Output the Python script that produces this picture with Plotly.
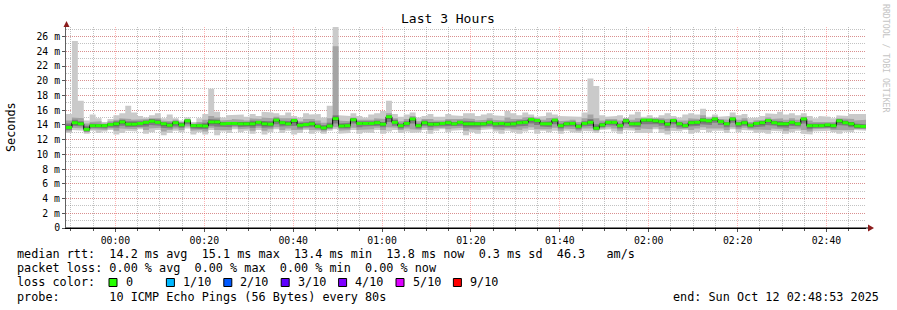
import pandas as pd
import plotly.graph_objects as go

# ---------------- data (ms) ----------------
start_time = "2025-10-11 23:48:53"
step_seconds = 80

median = [13.65, 14.3, 14.15, 13.4, 13.9, 13.9, 13.9, 14.05, 14.15, 14.4, 14.1, 14.1, 14.2, 14.35, 14.5,
          14.35, 14.15, 13.95, 14.3, 14.0, 14.55, 13.9, 13.9, 13.85, 14.4, 14.4, 14.15, 14.2, 14.2, 14.15,
          14.15, 14.15, 14.35, 14.15, 14.1, 14.65, 14.3, 14.15, 14.6, 13.95, 14.05, 14.15, 13.8, 13.6, 13.85,
          14.85, 13.85, 13.9, 14.7, 14.2, 14.2, 14.2, 14.3, 14.1, 15.1, 14.35, 13.9, 14.2, 14.8, 13.9,
          14.3, 14.1, 14.1, 14.2, 14.3, 14.15, 14.35, 14.15, 14.15, 14.15, 14.15, 14.35, 14.15, 14.2, 14.1,
          14.15, 14.3, 14.35, 14.75, 14.6, 14.15, 14.15, 14.65, 13.9, 14.15, 14.2, 13.8, 14.2, 14.35, 13.55,
          14.0, 14.35, 14.35, 13.9, 14.55, 14.15, 14.15, 14.65, 14.65, 14.55, 14.45, 14.1, 14.6, 14.15, 13.9,
          14.3, 14.35, 14.65, 14.55, 14.8, 14.45, 14.15, 14.8, 14.15, 14.3, 13.95, 14.2, 14.3, 14.6, 14.3,
          14.15, 14.15, 14.35, 14.15, 14.8, 13.9, 13.9, 13.9, 14.0, 13.9, 14.55, 14.3, 14.15, 13.85, 13.8]

ping_max = [15.5, 25.4, 17.3, 14.6, 15.4, 14.9, 14.4, 14.8, 15.3, 15.6, 16.6, 15.7, 15.2, 15.0, 15.3,
            15.6, 14.9, 15.4, 14.9, 14.6, 15.0, 14.4, 14.9, 15.5, 18.9, 15.8, 15.0, 15.3, 15.3, 15.4,
            15.1, 15.5, 15.2, 15.8, 15.7, 15.6, 15.3, 15.7, 15.2, 15.0, 15.6, 15.4, 15.5, 15.0, 16.6,
            27.4, 15.3, 15.2, 15.6, 15.2, 15.0, 15.4, 15.6, 15.9, 17.3, 15.5, 15.1, 15.4, 15.7, 15.0,
            15.2, 15.5, 15.1, 15.1, 15.5, 15.3, 15.2, 15.6, 15.6, 15.2, 15.4, 15.6, 15.3, 15.2, 15.9,
            15.6, 15.3, 15.7, 15.4, 15.1, 15.2, 15.7, 15.4, 15.2, 15.1, 15.2, 15.1, 15.7, 20.3, 19.3,
            15.3, 15.1, 15.2, 15.3, 14.9, 15.4, 15.8, 15.1, 15.3, 15.0, 15.3, 15.6, 15.2, 15.0, 15.4,
            15.6, 15.4, 16.2, 15.1, 15.4, 15.1, 15.2, 15.7, 15.3, 15.5, 14.9, 15.0, 15.2, 15.6, 15.5,
            15.8, 15.4, 15.6, 15.3, 15.6, 15.2, 14.9, 15.2, 15.1, 14.9, 15.3, 15.2, 15.5, 15.4, 15.5]

ping_min = [12.9, 13.3, 13.2, 12.8, 13.2, 12.9, 13.1, 13.3, 12.7, 12.9, 13.2, 13.1, 13.4, 12.8, 13.0,
            13.3, 12.6, 12.9, 13.2, 13.0, 13.5, 12.7, 13.0, 12.7, 13.3, 12.6, 13.1, 12.9, 13.4, 13.0,
            13.2, 12.8, 13.3, 12.7, 13.0, 13.4, 12.9, 13.2, 12.7, 12.9, 13.3, 12.8, 13.1, 12.8, 13.2,
            13.4, 12.8, 12.9, 13.3, 12.8, 13.0, 12.9, 13.3, 12.8, 13.1, 13.3, 12.9, 13.1, 12.9, 13.0,
            13.3, 12.8, 13.2, 13.4, 13.0, 13.2, 13.3, 12.6, 13.0, 12.8, 13.3, 13.4, 13.1, 12.8, 13.2,
            13.0, 12.8, 13.1, 13.3, 12.8, 13.2, 13.0, 13.2, 12.8, 13.2, 13.0, 12.9, 13.2, 13.1, 12.9,
            13.3, 13.4, 13.1, 12.8, 13.3, 13.2, 12.9, 13.0, 12.9, 13.4, 12.9, 12.7, 13.2, 13.1, 13.3,
            12.8, 13.0, 13.3, 13.0, 13.2, 13.2, 12.9, 13.4, 13.0, 13.3, 13.2, 12.9, 13.0, 12.8, 13.2,
            13.1, 12.8, 13.0, 13.2, 12.8, 12.7, 13.1, 13.2, 13.2, 13.0, 12.8, 13.1, 13.0, 13.3, 13.2]

ping_lo2 = [13.1, 13.6, 13.5, 13.0, 13.4, 13.3, 13.3, 13.5, 13.2, 13.5, 13.5, 13.4, 13.6, 13.3, 13.5,
            13.6, 13.1, 13.3, 13.5, 13.3, 13.8, 13.2, 13.3, 13.1, 13.6, 13.3, 13.4, 13.3, 13.7, 13.4,
            13.5, 13.2, 13.6, 13.2, 13.4, 13.7, 13.3, 13.5, 13.3, 13.3, 13.5, 13.3, 13.3, 13.1, 13.4,
            13.7, 13.2, 13.3, 13.6, 13.3, 13.4, 13.4, 13.6, 13.3, 13.7, 13.6, 13.3, 13.5, 13.4, 13.3,
            13.6, 13.3, 13.5, 13.6, 13.4, 13.5, 13.6, 13.2, 13.4, 13.3, 13.6, 13.7, 13.4, 13.3, 13.5,
            13.4, 13.3, 13.5, 13.7, 13.4, 13.5, 13.4, 13.6, 13.2, 13.5, 13.4, 13.2, 13.5, 13.5, 13.2,
            13.5, 13.7, 13.5, 13.2, 13.6, 13.5, 13.3, 13.5, 13.4, 13.7, 13.4, 13.2, 13.6, 13.4, 13.5,
            13.3, 13.5, 13.7, 13.5, 13.6, 13.5, 13.3, 13.7, 13.4, 13.6, 13.4, 13.3, 13.4, 13.3, 13.5,
            13.4, 13.2, 13.4, 13.5, 13.3, 13.1, 13.4, 13.4, 13.5, 13.3, 13.3, 13.4, 13.3, 13.5, 13.4]

ping_hi2 = [14.6, 15.0, 14.9, 14.2, 14.4, 14.5, 14.2, 14.5, 14.7, 14.9, 14.8, 14.7, 14.7, 14.8, 14.9,
            14.9, 14.6, 14.5, 14.7, 14.4, 14.8, 14.2, 14.4, 14.7, 15.2, 15.0, 14.6, 14.7, 14.8, 14.7,
            14.6, 14.9, 14.8, 15.0, 14.9, 15.1, 14.9, 14.9, 14.9, 14.5, 14.8, 14.8, 14.6, 14.3, 14.9,
            24.7, 14.6, 14.5, 15.0, 14.7, 14.6, 14.7, 14.9, 14.8, 15.6, 14.9, 14.5, 14.8, 15.2, 14.5,
            14.8, 14.8, 14.6, 14.6, 14.8, 14.7, 14.8, 14.9, 14.8, 14.6, 14.7, 14.9, 14.7, 14.6, 15.0,
            14.8, 14.8, 15.0, 15.1, 14.9, 14.7, 14.9, 15.0, 14.5, 14.6, 14.7, 14.4, 14.9, 15.4, 14.9,
            14.6, 14.8, 14.8, 14.6, 14.9, 14.7, 14.9, 14.9, 15.0, 14.9, 14.9, 14.8, 14.9, 14.6, 14.6,
            14.9, 14.8, 15.3, 14.9, 15.1, 14.8, 14.7, 15.1, 14.7, 14.9, 14.4, 14.6, 14.7, 15.0, 14.8,
            14.9, 14.7, 14.9, 14.7, 15.1, 14.6, 14.4, 14.5, 14.5, 14.4, 14.9, 14.8, 14.8, 14.6, 14.7]

ping_lo3 = [13.3, 13.9, 13.8, 13.1, 13.6, 13.5, 13.5, 13.7, 13.6, 13.9, 13.7, 13.7, 13.8, 13.8, 14.0,
            13.9, 13.6, 13.5, 13.8, 13.6, 14.1, 13.5, 13.5, 13.4, 13.9, 13.8, 13.7, 13.7, 13.9, 13.7,
            13.8, 13.6, 13.9, 13.6, 13.7, 14.1, 13.8, 13.8, 13.9, 13.5, 13.7, 13.7, 13.5, 13.3, 13.5,
            14.2, 13.5, 13.5, 14.2, 13.7, 13.8, 13.8, 13.9, 13.7, 14.4, 13.9, 13.5, 13.8, 14.2, 13.5,
            13.9, 13.7, 13.8, 13.8, 13.8, 13.8, 13.9, 13.6, 13.7, 13.7, 13.8, 13.9, 13.7, 13.7, 13.7,
            13.7, 13.8, 13.9, 14.2, 14.0, 13.8, 13.7, 14.1, 13.5, 13.8, 13.8, 13.4, 13.8, 13.9, 13.3,
            13.7, 14.0, 13.9, 13.5, 14.1, 13.8, 13.7, 14.1, 14.0, 14.1, 13.9, 13.6, 14.1, 13.7, 13.6,
            13.8, 13.9, 14.1, 14.0, 14.3, 14.0, 13.7, 14.3, 13.7, 13.9, 13.6, 13.7, 13.8, 14.0, 13.9,
            13.7, 13.6, 13.9, 13.8, 14.2, 13.4, 13.6, 13.6, 13.7, 13.5, 14.0, 13.9, 13.7, 13.5, 13.5]

ping_hi3 = [14.2, 14.7, 14.5, 13.9, 14.2, 14.2, 14.1, 14.3, 14.5, 14.7, 14.5, 14.4, 14.5, 14.6, 14.8,
            14.7, 14.4, 14.3, 14.5, 14.3, 14.7, 14.1, 14.2, 14.3, 14.8, 14.7, 14.4, 14.5, 14.5, 14.4,
            14.4, 14.6, 14.6, 14.6, 14.5, 14.9, 14.6, 14.5, 14.8, 14.3, 14.4, 14.5, 14.2, 14.0, 14.3,
            15.3, 14.2, 14.3, 14.9, 14.5, 14.4, 14.5, 14.6, 14.4, 15.3, 14.7, 14.2, 14.5, 15.0, 14.2,
            14.6, 14.4, 14.4, 14.4, 14.6, 14.4, 14.6, 14.5, 14.5, 14.4, 14.4, 14.6, 14.4, 14.4, 14.5,
            14.5, 14.6, 14.7, 14.9, 14.8, 14.4, 14.5, 14.8, 14.2, 14.4, 14.5, 14.1, 14.5, 14.8, 14.1,
            14.3, 14.6, 14.6, 14.2, 14.8, 14.4, 14.5, 14.8, 14.8, 14.8, 14.7, 14.4, 14.8, 14.4, 14.2,
            14.6, 14.6, 14.9, 14.7, 15.0, 14.7, 14.4, 15.0, 14.4, 14.6, 14.2, 14.4, 14.5, 14.8, 14.6,
            14.5, 14.4, 14.6, 14.4, 15.0, 14.2, 14.2, 14.2, 14.3, 14.2, 14.8, 14.6, 14.4, 14.2, 14.1]

ping_lo4 = [13.45, 14.1, 14.0, 13.25, 13.75, 13.7, 13.7, 13.85, 13.9, 14.2, 13.9, 13.9, 14.0, 14.1, 14.3,
            14.15, 13.9, 13.75, 14.1, 13.8, 14.35, 13.7, 13.7, 13.6, 14.2, 14.1, 13.95, 14.0, 14.05, 13.95,
            14.0, 13.9, 14.15, 13.9, 13.9, 14.4, 14.1, 14.0, 14.3, 13.75, 13.85, 13.95, 13.6, 13.4, 13.65,
            14.55, 13.65, 13.7, 14.5, 14.0, 14.0, 14.0, 14.1, 13.9, 14.8, 14.15, 13.7, 14.0, 14.55, 13.7,
            14.1, 13.9, 13.95, 14.0, 14.1, 13.95, 14.15, 13.9, 13.95, 13.95, 13.95, 14.15, 13.95, 14.0, 13.9,
            13.95, 14.1, 14.15, 14.5, 14.35, 13.95, 13.95, 14.4, 13.7, 13.95, 14.0, 13.6, 14.0, 14.15, 13.4,
            13.8, 14.15, 14.15, 13.7, 14.3, 13.95, 13.95, 14.4, 14.4, 14.3, 14.2, 13.9, 14.35, 13.95, 13.7,
            14.05, 14.1, 14.4, 14.3, 14.55, 14.25, 13.95, 14.55, 13.95, 14.1, 13.75, 14.0, 14.05, 14.35, 14.1,
            13.9, 13.9, 14.1, 13.95, 14.5, 13.65, 13.7, 13.7, 13.8, 13.7, 14.3, 14.1, 13.9, 13.65, 13.6]

ping_hi4 = [13.9, 14.5, 14.35, 13.65, 14.05, 14.1, 14.05, 14.2, 14.35, 14.6, 14.3, 14.3, 14.35, 14.5, 14.7,
            14.55, 14.3, 14.15, 14.45, 14.2, 14.7, 14.05, 14.1, 14.1, 14.6, 14.6, 14.3, 14.35, 14.4, 14.3,
            14.3, 14.4, 14.5, 14.4, 14.3, 14.8, 14.45, 14.35, 14.75, 14.15, 14.25, 14.35, 14.0, 13.8, 14.05,
            15.1, 14.05, 14.1, 14.85, 14.4, 14.35, 14.4, 14.5, 14.3, 15.25, 14.55, 14.1, 14.4, 14.95, 14.1,
            14.5, 14.3, 14.3, 14.35, 14.5, 14.3, 14.5, 14.35, 14.35, 14.3, 14.3, 14.5, 14.3, 14.35, 14.3,
            14.35, 14.5, 14.55, 14.9, 14.75, 14.3, 14.35, 14.8, 14.1, 14.3, 14.4, 14.0, 14.4, 14.6, 13.8,
            14.2, 14.5, 14.5, 14.1, 14.75, 14.3, 14.35, 14.8, 14.8, 14.7, 14.6, 14.3, 14.75, 14.3, 14.1,
            14.5, 14.5, 14.85, 14.7, 14.95, 14.6, 14.3, 14.95, 14.3, 14.5, 14.1, 14.35, 14.5, 14.75, 14.5,
            14.35, 14.35, 14.5, 14.3, 14.95, 14.1, 14.1, 14.1, 14.2, 14.1, 14.7, 14.5, 14.35, 14.05, 14.0]

y_tick_values = [0, 2, 4, 6, 8, 10, 12, 14, 16, 18, 20, 22, 24, 26]
y_tick_labels = ["0", "2 m", "4 m", "6 m", "8 m", "10 m", "12 m", "14 m", "16 m", "18 m",
                 "20 m", "22 m", "24 m", "26 m"]

loss_labels = ["0", "1/10", "2/10", "3/10", "4/10", "5/10", "9/10"]
loss_colors = ["#26ff00", "#00b8ff", "#0059ff", "#5e00ff", "#7e00ff", "#dd00ff", "#ff0000"]

stats_line1 = "median rtt:  14.2 ms avg  15.1 ms max  13.4 ms min  13.8 ms now  0.3 ms sd  46.3   am/s"
stats_line2 = "packet loss: 0.00 % avg  0.00 % max  0.00 % min  0.00 % now"
probe_line = "probe:       10 ICMP Echo Pings (56 Bytes) every 80s"
end_line = "end: Sun Oct 12 02:48:53 2025"

# ---------------- build ----------------
n = len(median)
t0 = pd.Timestamp(start_time)
t_start = [t0 + pd.Timedelta(seconds=step_seconds * i) for i in range(n)]
t_end = [t0 + pd.Timedelta(seconds=step_seconds * (i + 1)) for i in range(n)]

MONO = "DejaVu Sans Mono"
fig = go.Figure()


def band(lo, hi, color):
    xs, ys = [], []
    for i in range(n):
        xs += [t_start[i], t_end[i]]
        ys += [hi[i], hi[i]]
    for i in reversed(range(n)):
        xs += [t_end[i], t_start[i]]
        ys += [lo[i], lo[i]]
    return go.Scatter(x=xs, y=ys, mode="lines", fill="toself", fillcolor=color,
                      line=dict(width=0, color=color), hoverinfo="skip", showlegend=False)


fig.add_trace(band(ping_min, ping_max, "#cacaca"))
fig.add_trace(band(ping_lo2, ping_hi2, "#a4a4a4"))
fig.add_trace(band(ping_lo3, ping_hi3, "#7e7e7e"))
fig.add_trace(band(ping_lo4, ping_hi4, "#585858"))

# black step line for the median
fig.add_trace(go.Scatter(x=t_start + [t_end[-1]], y=median + [median[-1]], mode="lines",
                         line=dict(color="#000000", width=1, shape="hv"),
                         hoverinfo="skip", showlegend=False))
# green median segments
gx, gy = [], []
for i in range(n):
    gx += [t_start[i], t_end[i], None]
    gy += [median[i], median[i], None]
fig.add_trace(go.Scatter(x=gx, y=gy, mode="lines", line=dict(color=loss_colors[0], width=3),
                         hoverinfo="skip", showlegend=False, connectgaps=False))

# ---------------- layout ----------------
W, H = 897, 310
L, R, T, B = 66, 31, 27, 82
PW, PH = W - L - R, H - T - B


def px(x):
    return (x - L) / PW


def py(y):
    return (H - B - y) / PH


MAJOR_GRID = "rgba(255,60,60,0.38)"
MINOR_GRID = "rgba(120,120,120,0.45)"
DASH = "1px,1px"

fig.update_layout(
    width=W, height=H,
    margin=dict(l=L, r=R, t=T, b=B, pad=0),
    paper_bgcolor="#ffffff", plot_bgcolor="#ffffff",
    showlegend=False,
    font=dict(family=MONO, color="#000000"),
)

fig.update_xaxes(
    type="date", range=[t_start[0], t_end[-1]],
    tick0="2025-10-12 00:00:00", dtick=20 * 60 * 1000, tickformat="%H:%M",
    showgrid=True, gridcolor=MAJOR_GRID, griddash=DASH, gridwidth=1,
    minor=dict(dtick=5 * 60 * 1000, showgrid=True, gridcolor=MINOR_GRID,
               griddash=DASH, gridwidth=1, ticks="outside", ticklen=2, tickcolor="#555555"),
    showline=True, linecolor="#000000", linewidth=1,
    ticks="outside", ticklen=3, tickcolor="#555555",
    tickfont=dict(family=MONO, size=9.8, color="#000000"),
    zeroline=False, fixedrange=True,
)
fig.update_yaxes(
    range=[0, 27.3],
    tickmode="array", tickvals=y_tick_values, ticktext=y_tick_labels,
    showgrid=True, gridcolor=MAJOR_GRID, griddash=DASH, gridwidth=1,
    minor=dict(dtick=1, showgrid=True, gridcolor=MINOR_GRID, griddash=DASH, gridwidth=1),
    showline=True, linecolor="#606060", linewidth=1,
    ticks="outside", ticklen=3, tickcolor="#555555",
    tickfont=dict(family=MONO, size=9.8, color="#000000"),
    zeroline=False, fixedrange=True,
)

shapes = []
# axis extensions and arrows
shapes.append(dict(type="line", xref="paper", yref="paper", x0=px(L), x1=px(869), y0=0, y1=0,
                   line=dict(color="#000000", width=1)))
shapes.append(dict(type="path", xref="paper", yref="paper",
                   path="M {} {} L {} {} L {} {} Z".format(px(868), py(224.5), px(874), py(228), px(868), py(231.5)),
                   fillcolor="#8c1c1c", line=dict(width=0)))
shapes.append(dict(type="line", xref="paper", yref="paper", x0=0, x1=0, y0=1, y1=py(24),
                   line=dict(color="#606060", width=1)))
shapes.append(dict(type="path", xref="paper", yref="paper",
                   path="M {} {} L {} {} L {} {} Z".format(px(63.5), py(27), px(66.5), py(21), px(69.5), py(27)),
                   fillcolor="#8c1c1c", line=dict(width=0)))

annotations = []


def text(x, y, s, size=11.8, anchor="left", color="#000000", angle=0):
    annotations.append(dict(xref="paper", yref="paper", x=px(x), y=py(y), text=s.replace(" ", "\u00a0"),
                            showarrow=False, xanchor=anchor, yanchor="middle", textangle=angle,
                            font=dict(family=MONO, size=size, color=color)))


text(448, 19, "Last 3 Hours", size=13, anchor="center")
text(11, 127, "Seconds", size=11.8, anchor="center", angle=-90)
text(886, 59, "RRDTOOL / TOBI OETIKER", size=8.2, anchor="center", color="#c4c4c4", angle=90)

text(15, 254, stats_line1)
text(15, 268, stats_line2)
text(15, 282, "loss color:")
text(15, 296.5, probe_line)
text(881, 296.5, end_line, anchor="right")

box_x0 = 109
box_gap = 57.4
for k, (lab, col) in enumerate(zip(loss_labels, loss_colors)):
    bx = box_x0 + k * box_gap
    shapes.append(dict(type="rect", xref="paper", yref="paper", x0=px(bx), x1=px(bx + 8),
                       y0=py(278.5), y1=py(286.5), fillcolor=col, line=dict(color="#000000", width=1)))
    text(bx + 14.5, 282, lab)

fig.update_layout(shapes=shapes, annotations=annotations)

fig.write_html("out.html")
